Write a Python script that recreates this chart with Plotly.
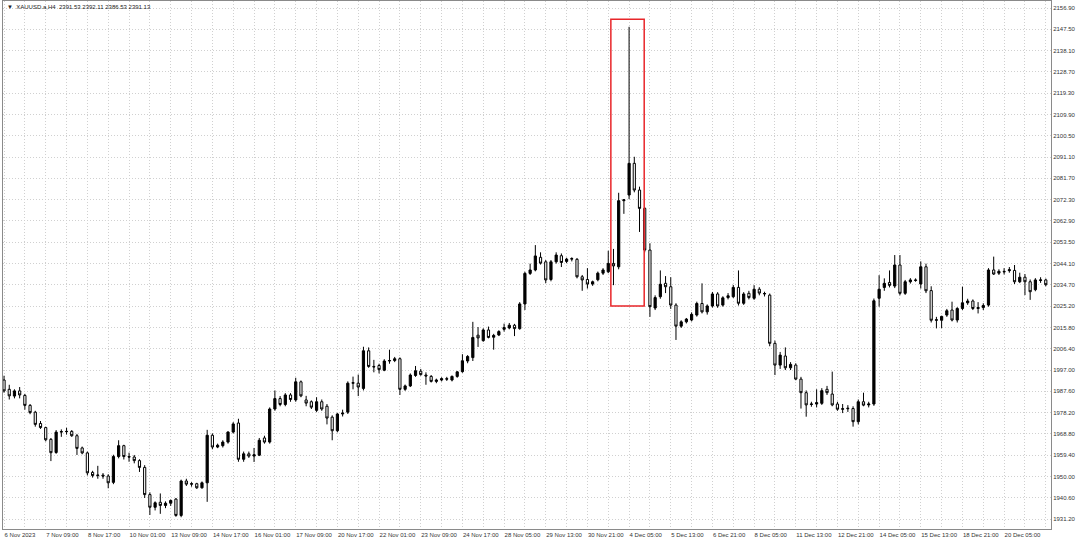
import plotly.graph_objects as go

# ---- data (XAUUSD H4, bar index 0..200) ----
opens = [1992.6,1988.5,1985.5,1987.8,1985.8,1981.4,1978.4,1973.4,1971.6,1966.4,
         1960.6,1969.6,1969.8,1969.9,1968.0,1962.6,1960.4,1951.8,1950.4,1950.6,
         1950.2,1947.4,1958.8,1963.6,1958.8,1958.6,1957.0,1954.0,1942.0,1936.4,
         1938.6,1937.2,1938.2,1940.0,1932.8,1948.0,1946.6,1946.8,1945.0,1947.2,
         1968.2,1963.0,1963.6,1965.2,1969.6,1973.6,1957.6,1960.0,1959.0,1959.4,
         1967.0,1965.2,1979.8,1984.4,1981.8,1986.0,1983.8,1991.8,1983.8,1983.0,
         1979.2,1983.0,1981.0,1976.2,1970.2,1977.6,1978.4,1991.2,1991.2,1988.9,
         2005.5,1998.6,1999.0,1996.9,2001.0,2001.2,2002.0,1988.5,1990.0,1994.6,
         1996.5,1994.8,1994.2,1992.0,1992.6,1993.2,1992.6,1994.2,1996.3,2001.0,
         2002.5,2012.4,2010.0,2014.7,2011.5,2012.5,2015.0,2015.6,2016.8,2015.3,
         2026.2,2039.7,2041.2,2046.8,2044.8,2037.0,2044.8,2047.5,2045.0,2046.0,
         2045.9,2038.2,2037.0,2035.0,2036.9,2039.8,2040.4,2044.1,2042.6,2071.8,
         2074.3,2088.3,2076.5,2068.4,2050.0,2024.4,2029.4,2035.3,2033.8,2025.7,
         2016.4,2018.3,2019.1,2021.3,2026.4,2022.7,2025.3,2030.6,2025.7,2029.0,
         2029.4,2033.5,2026.5,2030.9,2028.7,2032.7,2030.6,2030.1,2008.8,1999.2,
         2003.2,1998.0,1999.2,1993.0,1987.0,1981.8,1982.0,1982.3,1988.5,1986.4,
         1982.0,1979.7,1979.9,1980.0,1974.2,1983.0,1981.6,1982.0,2028.7,2033.5,
         2035.7,2034.1,2043.4,2030.9,2036.0,2036.8,2035.0,2042.6,2032.1,2019.0,
         2019.0,2021.3,2023.5,2019.1,2024.2,2026.7,2027.5,2024.2,2024.6,2025.7,
         2041.2,2039.8,2040.6,2040.9,2041.0,2036.0,2038.0,2036.0,2032.5,2036.6,
         2036.8]
highs = [1994.5,1990.5,1988.5,1989.5,1986.5,1982.0,1979.0,1974.5,1972.0,1967.0,
         1970.5,1970.8,1971.5,1970.5,1968.8,1963.2,1961.0,1952.5,1954.7,1951.5,
         1951.0,1959.6,1966.0,1964.0,1960.5,1959.5,1957.6,1955.0,1943.0,1939.0,
         1942.5,1939.0,1939.8,1940.5,1948.6,1949.0,1947.5,1947.2,1947.8,1970.6,
         1969.0,1964.5,1966.0,1970.0,1974.0,1975.5,1961.0,1961.0,1962.6,1967.0,
         1968.0,1980.5,1988.0,1985.5,1986.8,1986.8,1993.6,1992.4,1985.6,1983.6,
         1985.0,1984.0,1982.0,1977.0,1978.0,1979.5,1992.0,1994.1,1995.0,2007.3,
         2007.0,2001.5,1999.8,2001.8,2006.0,2002.8,2002.6,1990.6,1995.5,1998.8,
         1997.5,1996.0,1994.8,1993.2,1993.8,1994.0,1994.6,1996.6,2004.0,2003.6,
         2018.3,2016.0,2015.4,2016.2,2013.0,2014.6,2017.5,2017.8,2017.4,2027.0,
         2040.4,2044.0,2052.2,2049.0,2045.6,2045.6,2049.0,2048.5,2046.6,2046.8,
         2046.5,2039.0,2042.0,2036.5,2040.5,2042.0,2049.7,2050.5,2075.3,2072.5,
         2148.6,2091.2,2078.0,2069.0,2053.0,2030.0,2041.0,2038.5,2038.0,2026.5,
         2019.0,2020.0,2022.5,2027.2,2035.3,2026.0,2031.5,2031.4,2029.6,2031.0,
         2034.6,2041.0,2031.4,2032.0,2034.5,2033.6,2031.6,2030.8,2010.0,2005.0,
         2007.0,2000.5,2000.0,1994.0,1988.0,1983.0,1988.5,1989.0,1990.0,1996.3,
         1983.0,1982.0,1981.5,1981.0,1984.0,1987.0,1983.0,2028.6,2038.9,2037.5,
         2041.0,2047.8,2047.8,2036.8,2037.6,2037.5,2045.0,2044.0,2034.0,2020.5,
         2021.0,2024.0,2027.2,2024.8,2033.8,2028.5,2028.2,2027.0,2026.5,2042.0,
         2047.1,2041.5,2042.0,2042.5,2043.4,2040.0,2039.4,2037.0,2037.6,2038.0,
         2037.4]
lows = [1987.0,1984.0,1984.5,1984.5,1979.5,1977.5,1972.0,1971.0,1965.5,1956.8,
        1960.0,1967.5,1968.5,1967.5,1959.5,1959.8,1950.5,1949.5,1949.0,1949.0,
        1944.8,1946.6,1958.0,1957.5,1956.5,1955.8,1952.0,1940.5,1933.0,1935.0,
        1933.5,1936.0,1937.0,1932.2,1932.0,1945.8,1945.5,1944.5,1944.6,1938.8,
        1962.0,1962.5,1962.8,1964.5,1969.0,1956.5,1956.5,1958.2,1956.4,1959.0,
        1964.5,1964.5,1979.0,1981.0,1981.0,1983.0,1983.0,1985.0,1981.0,1979.8,
        1978.5,1979.0,1973.0,1966.0,1969.5,1976.5,1977.6,1988.5,1985.5,1988.0,
        1998.0,1996.0,1995.5,1996.5,1999.8,2000.5,1986.0,1987.8,1989.5,1994.0,
        1994.5,1990.5,1991.5,1991.2,1992.0,1992.2,1992.0,1993.6,1995.8,2000.0,
        2001.0,2007.2,2009.5,2011.0,2006.0,2012.0,2014.0,2015.0,2012.0,2014.8,
        2023.5,2039.0,2040.6,2043.6,2035.4,2036.2,2044.0,2042.5,2044.2,2045.0,
        2037.5,2032.0,2033.0,2034.2,2036.2,2039.0,2039.8,2034.5,2041.5,2066.0,
        2072.5,2075.5,2058.0,2049.0,2020.5,2023.5,2028.5,2031.0,2024.0,2010.3,
        2015.6,2017.6,2018.5,2020.6,2022.0,2021.5,2024.6,2024.5,2025.0,2028.2,
        2028.8,2025.5,2025.8,2028.2,2028.0,2030.0,2029.5,2007.5,1994.8,1997.5,
        1997.0,1997.0,1992.5,1980.0,1976.4,1980.8,1980.5,1981.6,1986.0,1981.0,
        1979.0,1978.0,1978.5,1972.0,1973.0,1981.0,1980.5,1981.2,2025.0,2032.0,
        2033.5,2033.2,2030.0,2030.2,2035.2,2036.0,2033.0,2031.0,2018.0,2015.4,
        2015.5,2020.5,2018.5,2018.0,2023.5,2025.8,2023.5,2022.0,2023.5,2025.0,
        2039.0,2039.0,2039.2,2040.0,2035.0,2035.4,2030.1,2028.0,2031.8,2035.5,
        2034.0]
closes = [1987.8,1985.6,1987.8,1986.0,1981.4,1978.2,1973.0,1971.6,1966.2,1960.5,
          1969.6,1969.8,1969.9,1968.0,1962.4,1960.4,1951.6,1950.4,1950.6,1950.2,
          1947.2,1958.8,1963.6,1958.8,1958.6,1957.0,1954.0,1942.0,1936.4,1938.4,
          1937.2,1938.2,1939.4,1932.8,1948.0,1946.6,1946.8,1945.0,1947.2,1968.2,
          1963.0,1963.8,1965.2,1969.6,1973.2,1957.6,1960.0,1959.0,1959.6,1966.0,
          1965.2,1979.8,1984.4,1981.8,1986.0,1984.0,1991.8,1985.6,1982.4,1980.6,
          1983.0,1979.8,1975.8,1970.2,1977.6,1978.0,1991.2,1991.4,1989.5,2005.5,
          1998.6,1998.4,1997.2,2001.0,2001.2,2002.0,1988.5,1990.0,1994.8,1996.7,
          1995.0,1994.4,1992.0,1992.6,1993.2,1993.0,1994.2,1996.2,2001.1,2003.0,
          2011.4,2011.2,2014.7,2011.4,2012.3,2014.0,2015.8,2016.8,2015.3,2026.2,
          2039.7,2041.2,2047.4,2044.2,2036.8,2044.8,2047.8,2044.5,2046.0,2046.2,
          2038.2,2036.8,2035.0,2036.0,2039.8,2041.2,2044.1,2043.0,2071.8,2072.2,
          2088.3,2076.5,2068.4,2050.0,2025.0,2029.0,2034.9,2033.8,2025.7,2016.4,
          2018.3,2019.5,2021.6,2026.4,2022.7,2025.3,2030.6,2025.3,2028.9,2029.8,
          2033.5,2026.5,2030.6,2029.0,2032.7,2031.0,2030.8,2008.8,1999.2,2003.6,
          1998.0,1999.5,1993.0,1987.0,1981.6,1982.0,1982.6,1987.9,1987.0,1981.6,
          1979.7,1979.9,1980.1,1974.2,1983.0,1981.5,1982.0,2027.6,2032.7,2035.3,
          2034.4,2043.4,2030.9,2036.0,2036.8,2036.6,2042.6,2032.0,2019.0,2019.2,
          2020.7,2023.2,2019.1,2024.2,2026.7,2027.5,2024.2,2024.6,2025.5,2041.2,
          2039.4,2040.6,2040.4,2041.3,2036.0,2038.0,2036.0,2031.6,2036.8,2036.8,
          2034.7]

time_labels = ["6 Nov 2023", "7 Nov 09:00", "8 Nov 17:00", "10 Nov 01:00", "13 Nov 09:00",
               "14 Nov 17:00", "16 Nov 01:00", "17 Nov 09:00", "20 Nov 17:00", "22 Nov 01:00",
               "23 Nov 09:00", "24 Nov 17:00", "28 Nov 05:00", "29 Nov 13:00", "30 Nov 21:00",
               "4 Dec 05:00", "5 Dec 13:00", "6 Dec 21:00", "8 Dec 05:00", "11 Dec 13:00",
               "12 Dec 21:00", "14 Dec 05:00", "15 Dec 13:00", "18 Dec 21:00", "20 Dec 05:00"]
BARS_PER_LABEL = 8
BARS_PER_GRID = 4

price_ticks = ["2156.90", "2147.50", "2138.10", "2128.70", "2119.30", "2109.90", "2100.50",
               "2091.10", "2081.70", "2072.30", "2062.90", "2053.50", "2044.10", "2034.70",
               "2025.20", "2015.80", "2006.40", "1997.00", "1987.60", "1978.20", "1968.80",
               "1959.40", "1950.00", "1940.60", "1931.20"]

header_text = "▼  XAUUSD.a,H4  2391.53 2392.11 2386.53 2391.13"

# highlighted spike region (bar positions, price bounds)
hl_bar_from, hl_bar_to = 116.5, 122.9
hl_low, hl_high = 2025.3, 2151.9

# ---- figure ----
bars = list(range(len(opens)))

fig = go.Figure(go.Candlestick(
    x=bars, open=opens, high=highs, low=lows, close=closes,
    increasing=dict(line=dict(color="black", width=1), fillcolor="black"),
    decreasing=dict(line=dict(color="black", width=1), fillcolor="white"),
    whiskerwidth=0, hoverinfo="skip", showlegend=False,
))

grid_vals = list(range(0, len(opens), BARS_PER_GRID))
grid_text = []
for v in grid_vals:
    if v % BARS_PER_LABEL == 0 and v // BARS_PER_LABEL < len(time_labels):
        grid_text.append(time_labels[v // BARS_PER_LABEL])
    else:
        grid_text.append("")

font = dict(family="Liberation Sans", size=6, color="#333333")
grid_color = "#d0d0d0"

fig.update_layout(
    width=1080, height=540,
    margin=dict(l=3, r=29, t=1, b=11, autoexpand=False),
    paper_bgcolor="white", plot_bgcolor="white",
    font=font,
    boxgap=0.4,
    hovermode=False,
    xaxis=dict(
        range=[-0.2, 201.0], rangeslider=dict(visible=False),
        tickmode="array", tickvals=grid_vals, ticktext=grid_text,
        ticklabelposition="outside right", tickangle=0, automargin=False,
        showgrid=True, gridcolor=grid_color, griddash="1px,2px", gridwidth=1,
        showline=True, linecolor="#8a8a8a", linewidth=1, mirror=True,
        zeroline=False, ticks="", tickfont=font,
    ),
    yaxis=dict(
        side="right", range=[1926.8, 2160.0], automargin=False,
        tickmode="array", tickvals=[float(t) for t in price_ticks], ticktext=price_ticks,
        showgrid=True, gridcolor=grid_color, griddash="1px,2px", gridwidth=1,
        showline=True, linecolor="#8a8a8a", linewidth=1, mirror=True,
        zeroline=False, ticks="", tickfont=font,
    ),
    shapes=[dict(type="rect", xref="x", yref="y",
                 x0=hl_bar_from, x1=hl_bar_to, y0=hl_low, y1=hl_high,
                 line=dict(color="#e8262a", width=1.5), fillcolor="rgba(0,0,0,0)")],
    annotations=[dict(text=header_text, xref="paper", yref="paper", x=0.002, y=0.998,
                      xanchor="left", yanchor="top", showarrow=False,
                      font=dict(family="Liberation Sans", size=6, color="#222222"))],
)

fig.write_html("out.html", config={"displayModeBar": False},
               post_script="document.body.style.margin='0';document.body.style.overflow='hidden';")
